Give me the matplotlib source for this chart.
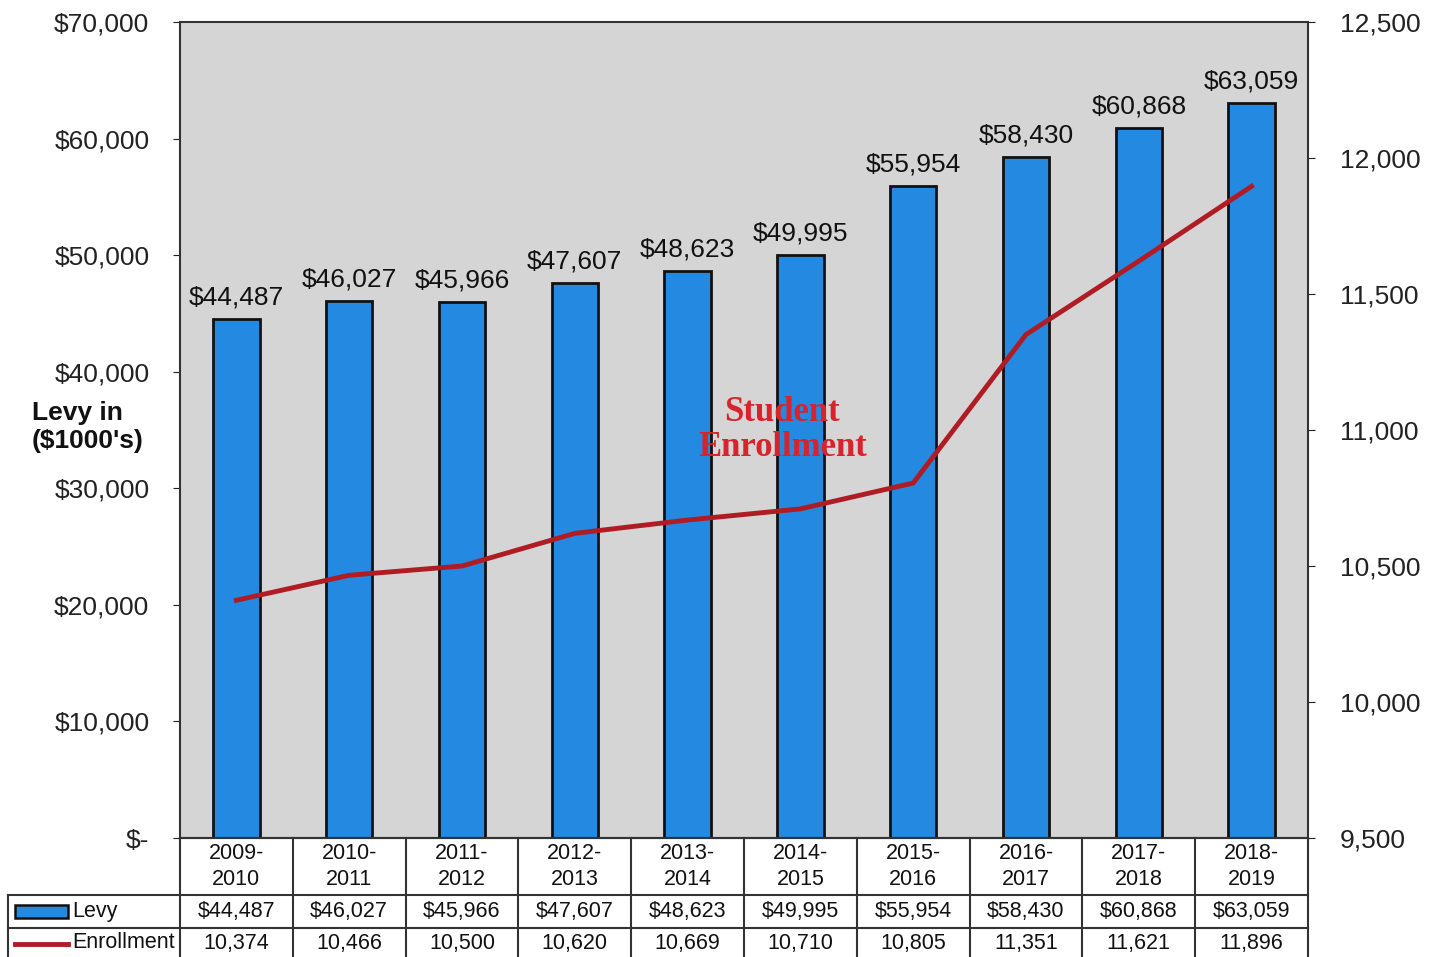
import numpy as np
import matplotlib
matplotlib.use("Agg")
from matplotlib import pyplot as plt
from matplotlib import patches
from matplotlib.ticker import FuncFormatter, MultipleLocator

plt.rcParams['font.family'] = ['Liberation Sans', 'DejaVu Sans']

years = ["2009-\n2010", "2010-\n2011", "2011-\n2012", "2012-\n2013", "2013-\n2014",
         "2014-\n2015", "2015-\n2016", "2016-\n2017", "2017-\n2018", "2018-\n2019"]
levy = [44487, 46027, 45966, 47607, 48623, 49995, 55954, 58430, 60868, 63059]
enrollment = [10374, 10466, 10500, 10620, 10669, 10710, 10805, 11351, 11621, 11896]

W, H = 1435, 957
fig = plt.figure(figsize=(W / 100, H / 100), dpi=100)
ax = fig.add_axes([180 / W, 1 - 838 / H, 1128 / W, 816 / H])
ax.set_facecolor('#d5d5d5')

x = np.arange(len(years))
bars = ax.bar(x, levy, width=0.41, color='#2489e0', edgecolor='#111111', linewidth=2, zorder=2)
ax.bar_label(bars, labels=['${:,}'.format(v) for v in levy], padding=7, fontsize=19, color='#111111')

ax.set_xlim(-0.5, len(years) - 0.5)
ax.set_ylim(0, 70000)
ax.yaxis.set_major_locator(MultipleLocator(10000))
ax.yaxis.set_major_formatter(FuncFormatter(lambda v, p: '$-' if v == 0 else '${:,.0f}'.format(v)))
ax.tick_params(axis='y', labelsize=19, pad=17, length=5, colors='#222222')
ax.set_xticks([])
for s in ax.spines.values():
    s.set_color('#333333')
    s.set_linewidth(1.5)

ax2 = ax.twinx()
ax2.plot(x, enrollment, color='#b01c24', linewidth=3.5, zorder=3)
ax2.set_ylim(9500, 12500)
ax2.yaxis.set_major_locator(MultipleLocator(500))
ax2.yaxis.set_major_formatter(FuncFormatter(lambda v, p: '{:,.0f}'.format(v)))
ax2.tick_params(axis='y', labelsize=19, pad=18, length=5, colors='#222222')
for s in ax2.spines.values():
    s.set_visible(False)

ax2.text(4.84, 11000, 'Student\nEnrollment', ha='center', va='center', fontsize=25,
         fontweight='bold', color='#d8232a', family=['Liberation Serif'], linespacing=1.05, zorder=5)

fig.text(32 / W, 1 - 427 / H, "Levy in\n($1000's)", ha='left', va='center', fontsize=19,
         fontweight='bold', color='#111111', linespacing=1.2)

# data table under the chart
tr = ax.get_xaxis_transform()
left_x = -0.5 - 172 / 112.8
y_top, y_r1, y_r2, y_bot = 0.0, -57 / 816, -90 / 816, -130 / 816
lk = dict(color='#333333', lw=1.5, transform=tr, clip_on=False)
ax.plot([-0.5, len(years) - 0.5], [y_top, y_top], **lk)
ax.plot([left_x, len(years) - 0.5], [y_r1, y_r1], **lk)
ax.plot([left_x, len(years) - 0.5], [y_r2, y_r2], **lk)
ax.plot([left_x, left_x], [y_r1, y_bot], **lk)
for b in np.arange(len(years) + 1) - 0.5:
    ax.plot([b, b], [y_top, y_bot], **lk)

for i in range(len(years)):
    ax.text(x[i], (y_top + y_r1) / 2, years[i], ha='center', va='center', fontsize=15.5,
            transform=tr, color='#111111', linespacing=1.3)
    ax.text(x[i], -0.0895, '${:,}'.format(levy[i]), ha='center', va='center', fontsize=15.5,
            transform=tr, color='#111111')
    ax.text(x[i], -0.1287, '{:,}'.format(enrollment[i]), ha='center', va='center', fontsize=15.5,
            transform=tr, color='#111111')

fig.patches.append(patches.Rectangle((15 / W, 1 - 918 / H), 53 / W, 13 / H, transform=fig.transFigure,
                                     facecolor='#2489e0', edgecolor='#111111', linewidth=1.8))
fig.lines.append(plt.Line2D([15 / W, 68 / W], [1 - 944 / H, 1 - 944 / H], transform=fig.transFigure,
                            color='#b01c24', linewidth=3.5))
fig.text(72 / W, 1 - 911 / H, 'Levy', ha='left', va='center', fontsize=15.5, color='#111111')
fig.text(72 / W, 1 - 943 / H, 'Enrollment', ha='left', va='center', fontsize=15.5, color='#111111')

fig.savefig('out.png', dpi=100)
